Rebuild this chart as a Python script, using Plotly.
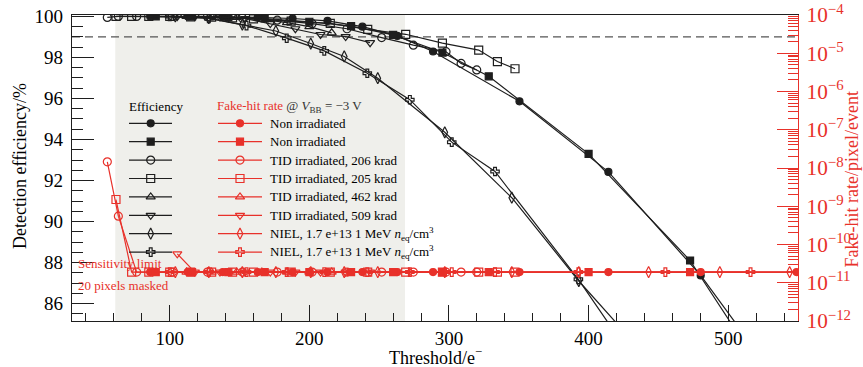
import math
import plotly.graph_objects as go

# ---------------- data ----------------
LIMIT = 1.9e-11  # sensitivity limit (20 pixels masked)

thr_non1 = [86, 113, 138, 163, 188, 213, 238, 263, 288.6, 350.5, 414.2, 480.3, 549]
eff_non1 = [100, 100, 99.98, 99.95, 99.9, 99.78, 99.5, 99.05, 98.29, 95.86, 92.42, 87.37, 81.0]
fhr_non1 = [1.9e-11] * 13

thr_non2 = [90, 116, 142, 168, 200, 229.9, 260, 295.3, 328.5, 400, 472.7, 560]
eff_non2 = [100, 100, 99.97, 99.9, 99.74, 99.53, 99.1, 98.24, 97.08, 93.3, 88.1, 79.0]
fhr_non2 = [1.9e-11] * 12

thr_tid206 = [55.3, 63.2, 76.3, 102, 127, 152, 177, 202, 227, 251.8, 274.5, 297.9, 308.7, 319.9]
eff_tid206 = [99.95, 100, 100, 100, 99.98, 99.92, 99.82, 99.65, 99.4, 98.97, 98.6, 98.28, 97.71, 97.39]
fhr_tid206 = [1.45e-8, 5.5e-10, 1.9e-11, 1.9e-11, 1.9e-11, 1.9e-11, 1.9e-11, 1.9e-11,
              1.9e-11, 1.9e-11, 1.9e-11, 1.9e-11, 1.9e-11, 1.9e-11]

thr_tid205 = [61.5, 72.7, 85, 100, 115, 130, 145, 160, 187, 215, 241.8, 269, 295.3, 321.3, 334.7, 347.3]
eff_tid205 = [100, 100, 100, 100, 99.98, 99.97, 99.93, 99.88, 99.77, 99.66, 99.37, 99.13, 98.7, 98.36, 97.8, 97.45]
fhr_tid205 = [1.5e-9, 1.9e-11, 1.9e-11, 1.9e-11, 1.9e-11, 1.9e-11, 1.9e-11, 1.9e-11,
              1.9e-11, 1.9e-11, 1.9e-11, 1.9e-11, 1.9e-11, 1.9e-11, 1.9e-11, 1.9e-11]

thr_tid462 = [112, 130, 148, 166, 184, 200, 216]
eff_tid462 = [100, 100, 99.95, 99.85, 99.7, 99.5, 99.2]
fhr_tid462 = [1.9e-11] * 7

thr_tid509 = [105.4, 118, 136, 154, 172, 190, 208, 226, 243.5]
eff_tid509 = [100, 100, 99.97, 99.9, 99.65, 99.4, 99.12, 99.02, 98.72]
fhr_tid509 = [5.7e-11, 1.9e-11, 1.9e-11, 1.9e-11, 1.9e-11, 1.9e-11, 1.9e-11, 1.9e-11, 1.9e-11]

thr_niel1 = [104, 128, 152, 176, 201, 225, 249, 297, 345, 393, 443, 494, 544]
eff_niel1 = [100, 99.92, 99.6, 99.29, 98.68, 98.05, 96.99, 94.35, 91.16, 87.1, 83.3, 79.0, 74.0]
fhr_niel1 = [1.9e-11] * 13

thr_niel2 = [100, 128, 155, 183.8, 210.7, 241.5, 272, 302, 333, 392.7, 455, 516]
eff_niel2 = [100, 99.9, 99.55, 98.94, 98.32, 97.23, 95.94, 93.87, 92.44, 87.18, 81.0, 75.0]
fhr_niel2 = [1.9e-11] * 12

labels = ["Non irradiated", "Non irradiated",
          "TID irradiated, 206 krad", "TID irradiated, 205 krad",
          "TID irradiated, 462 krad", "TID irradiated, 509 krad",
          "NIEL, 1.7 e+13 1 MeV <i>n</i><sub>eq</sub>/cm<sup>3</sup>",
          "NIEL, 1.7 e+13 1 MeV <i>n</i><sub>eq</sub>/cm<sup>3</sup>"]

x_ticks = [100, 200, 300, 400, 500]
eff_ref = 99.0        # 99 % efficiency reference
fhr_ref = 1e-6        # fake-hit rate reference
shade_range = [61, 268.5]

# ---------------- style ----------------
FONT = "Liberation Serif"
RED = "#e8312a"
BLK = "#1e1e1e"
symbols = ["circle", "square", "circle-open", "square-open",
           "triangle-up-open", "triangle-down-open", "diamond-tall-open", "cross-open"]
sizes = [7, 7, 8, 8, 8, 8, 8, 7]

series = [
    (thr_non1, eff_non1, fhr_non1),
    (thr_non2, eff_non2, fhr_non2),
    (thr_tid206, eff_tid206, fhr_tid206),
    (thr_tid205, eff_tid205, fhr_tid205),
    (thr_tid462, eff_tid462, fhr_tid462),
    (thr_tid509, eff_tid509, fhr_tid509),
    (thr_niel1, eff_niel1, fhr_niel1),
    (thr_niel2, eff_niel2, fhr_niel2),
]

# plot area in pixels (for layout helpers)
L, R, T, B = 72, 798, 15, 321
W, H = R - L, B - T
def fx(px):
    return (px - L) / W
def fy(py):
    return (B - py) / H

fig = go.Figure()

# red fake-hit-rate traces
for (t, e, f), sym, sz in zip(series, symbols, sizes):
    fig.add_trace(go.Scatter(
        x=t, y=f, mode="lines+markers", xaxis="x", yaxis="y2",
        line=dict(color=RED, width=1.2),
        marker=dict(symbol=sym, size=sz, color=RED, line=dict(color=RED, width=1.2)),
        showlegend=False, hoverinfo="skip"))

# black efficiency traces
for (t, e, f), sym, sz in zip(series, symbols, sizes):
    fig.add_trace(go.Scatter(
        x=t, y=e, mode="lines+markers", xaxis="x", yaxis="y",
        line=dict(color=BLK, width=1.2),
        marker=dict(symbol=sym, size=sz, color=BLK, line=dict(color=BLK, width=1.2)),
        showlegend=False, hoverinfo="skip"))

# ---------------- hand-made legend (overlay axes in plot-area fractions) ----------------
row0, drow = 123.3, 18.4
for i, (sym, sz, lab) in enumerate(zip(symbols, sizes, labels)):
    py = row0 + i * drow
    fig.add_trace(go.Scatter(
        x=[fx(129), fx(150.7), fx(172)], y=[fy(py)] * 3, xaxis="x3", yaxis="y3",
        mode="lines", line=dict(color=BLK, width=1.2), showlegend=False, hoverinfo="skip"))
    fig.add_trace(go.Scatter(
        x=[fx(150.7)], y=[fy(py)], xaxis="x3", yaxis="y3", mode="markers",
        marker=dict(symbol=sym, size=sz, color=BLK, line=dict(color=BLK, width=1.2)),
        showlegend=False, hoverinfo="skip"))
    fig.add_trace(go.Scatter(
        x=[fx(218), fx(240), fx(262)], y=[fy(py)] * 3, xaxis="x3", yaxis="y3",
        mode="lines", line=dict(color=RED, width=1.2), showlegend=False, hoverinfo="skip"))
    fig.add_trace(go.Scatter(
        x=[fx(240)], y=[fy(py)], xaxis="x3", yaxis="y3", mode="markers",
        marker=dict(symbol=sym, size=sz, color=RED, line=dict(color=RED, width=1.2)),
        showlegend=False, hoverinfo="skip"))
    fig.add_annotation(x=fx(268), y=fy(py), xref="paper", yref="paper", text=lab,
                       showarrow=False, xanchor="left", yanchor="middle",
                       font=dict(family=FONT, size=13, color="black"))

fig.add_annotation(x=fx(126.5), y=fy(106.7), xref="paper", yref="paper", text="Efficiency",
                   showarrow=False, xanchor="left", yanchor="middle",
                   font=dict(family=FONT, size=13, color="black"))
fig.add_annotation(x=fx(215), y=fy(106.7), xref="paper", yref="paper",
                   text=f"<span style='color:{RED}'>Fake-hit rate</span> @ <i>V</i><sub>BB</sub> = \u22123 V",
                   showarrow=False, xanchor="left", yanchor="middle",
                   font=dict(family=FONT, size=13, color="#333333"))

fig.add_annotation(x=fx(76), y=fy(263.3), xref="paper", yref="paper", text="Sensitivity limit",
                   showarrow=False, xanchor="left", yanchor="middle",
                   font=dict(family=FONT, size=13, color=RED))
fig.add_annotation(x=fx(76), y=fy(285.7), xref="paper", yref="paper", text="20 pixels masked",
                   showarrow=False, xanchor="left", yanchor="middle",
                   font=dict(family=FONT, size=13, color=RED))

# axis titles as annotations (precise placement)
fig.add_annotation(x=fx(20), y=fy(166), xref="paper", yref="paper", text="Detection efficiency/%",
                   textangle=-90, showarrow=False, xanchor="center", yanchor="middle",
                   font=dict(family=FONT, size=18, color="black"))
fig.add_annotation(x=fx(851.5), y=fy(180), xref="paper", yref="paper", text="Fake-hit rate/pixel/event",
                   textangle=-90, showarrow=False, xanchor="center", yanchor="middle",
                   font=dict(family=FONT, size=18, color=RED))
fig.add_annotation(x=fx(435), y=fy(356), xref="paper", yref="paper", text="Threshold/e<sup>\u2212</sup>",
                   showarrow=False, xanchor="center", yanchor="middle",
                   font=dict(family=FONT, size=18, color="black"))

# ---------------- shapes ----------------
fig.add_shape(type="rect", xref="x", yref="paper", x0=shade_range[0], x1=shade_range[1],
              y0=0, y1=1, fillcolor="#efefeb", line=dict(width=0), layer="below")
fig.add_shape(type="line", xref="paper", yref="y", x0=0, x1=1, y0=eff_ref, y1=eff_ref,
              line=dict(color="#555555", width=1.3, dash="8px,5px"), layer="below")
fig.add_shape(type="line", xref="paper", yref="y2", x0=0, x1=1,
              y0=math.log10(fhr_ref), y1=math.log10(fhr_ref),
              line=dict(color=RED, width=1.3, dash="9px,5px"), layer="below")
fig.add_shape(type="line", xref="paper", yref="y2", x0=0, x1=1,
              y0=math.log10(LIMIT), y1=math.log10(LIMIT),
              line=dict(color=RED, width=1.2), layer="below")

# ---------------- axes ----------------
tickfont = dict(family=FONT, size=19, color="black")
fig.update_layout(
    width=863, height=367,
    margin=dict(l=L, r=863 - R, t=T, b=367 - B, pad=0, autoexpand=False),
    paper_bgcolor="white", plot_bgcolor="white",
    font=dict(family=FONT, color="black"),
    xaxis=dict(range=[30, 550], tickvals=x_ticks, ticks="inside", ticklen=16, tickwidth=1.2,
               tickcolor=BLK, minor=dict(ticks="inside", ticklen=8, dtick=20, tick0=0, tickcolor=BLK,
                                         tickwidth=1.2),
               showline=True, linecolor=BLK, linewidth=1.3, mirror=True, automargin=False,
               showgrid=False, zeroline=False, tickfont=tickfont),
    yaxis=dict(range=[85.15, 100.07], dtick=2, tick0=0, ticks="inside", ticklen=22, tickwidth=1.2,
               tickcolor=BLK, minor=dict(ticks="inside", ticklen=11, dtick=0.5, tick0=0,
                                         tickcolor=BLK, tickwidth=1.2),
               showline=True, linecolor=BLK, linewidth=1.3, automargin=False,
               showgrid=False, zeroline=False, tickfont=tickfont, ticklabelstandoff=4),
    yaxis2=dict(type="log", range=[-12, -4], overlaying="y", side="right", anchor="x",
                dtick=1, exponentformat="power", ticks="inside", ticklen=21, tickwidth=1.2,
                tickcolor=RED, minor=dict(ticks="inside", ticklen=10, dtick="D1",
                                          tickcolor=RED, tickwidth=1),
                showline=True, linecolor=RED, linewidth=1.3, automargin=False,
                showgrid=False, zeroline=False, ticklabelstandoff=4,
                tickfont=dict(family=FONT, size=17, color=RED)),
    xaxis3=dict(overlaying="x", range=[0, 1], visible=False, anchor="y3"),
    yaxis3=dict(overlaying="y", range=[0, 1], visible=False, anchor="x3"),
)

fig.write_html("out.html", config={"displayModeBar": False},
               post_script="document.body.style.margin='0';document.body.style.overflow='hidden';")
